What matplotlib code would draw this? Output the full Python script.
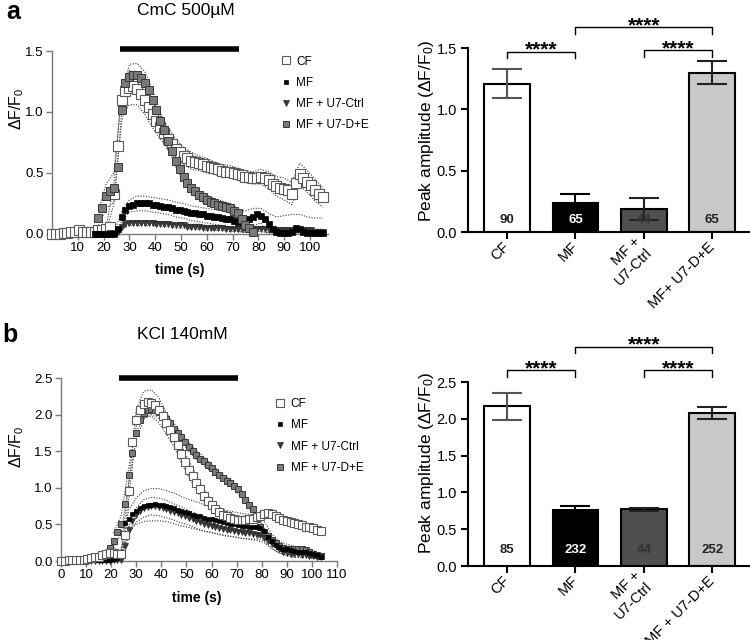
import matplotlib
matplotlib.use("Agg")
import matplotlib.pyplot as plt
from matplotlib.lines import Line2D

plt.rcParams['font.family'] = ['Liberation Sans', 'DejaVu Sans']
plt.rcParams['mathtext.fontset'] = 'custom'
plt.rcParams['mathtext.rm'] = 'Liberation Sans'
plt.rcParams['mathtext.it'] = 'Liberation Sans:italic'
plt.rcParams['mathtext.bf'] = 'Liberation Sans:bold'

nan = float('nan')

# --- Data ---
# sample times of the traces (s), same grid for both panels
TIME_S = [0, 1.5, 3, 4.5, 6, 7.5, 9, 10.5, 12, 13.5,
          15, 16.5, 18, 19.5, 21, 22.5, 24, 25.5, 27, 28.5,
          30, 31.5, 33, 34.5, 36, 37.5, 39, 40.5, 42, 43.5,
          45, 46.5, 48, 49.5, 51, 52.5, 54, 55.5, 57, 58.5,
          60, 61.5, 63, 64.5, 66, 67.5, 69, 70.5, 72, 73.5,
          75, 76.5, 78, 79.5, 81, 82.5, 84, 85.5, 87, 88.5,
          90, 91.5, 93, 94.5, 96, 97.5, 99, 100.5, 102, 103.5,
          105]

# panel a: CmC 500uM, mean dF/F0
CF_A = [0.00, 0.00, 0.00, 0.01, 0.01, 0.02, 0.02, 0.03, 0.02, 0.02,
        0.02, 0.02, 0.03, 0.03, 0.04, 0.06, 0.33, 0.72, 1.10, 1.17,
        1.20, 1.21, 1.19, 1.15, 1.10, 1.04, 0.98, 0.93, 0.88, 0.83,
        0.78, 0.74, 0.70, 0.67, 0.64, 0.62, 0.60, 0.59, 0.58, 0.57,
        0.56, 0.55, 0.54, 0.53, 0.52, 0.51, 0.51, 0.50, 0.49, 0.48,
        0.47, 0.47, 0.46, 0.46, 0.47, 0.46, 0.44, 0.41, 0.39, 0.38,
        0.37, 0.36, 0.33, 0.42, 0.49, 0.46, 0.43, 0.40, 0.36, 0.33,
        0.30]
MF_A = [nan, nan, nan, nan, nan, nan, nan, nan, nan, nan,
        nan, 0.00, 0.00, 0.00, 0.00, 0.00, 0.00, 0.04, 0.14, 0.20,
        0.23, 0.24, 0.25, 0.25, 0.25, 0.25, 0.24, 0.24, 0.23, 0.22,
        0.22, 0.21, 0.20, 0.20, 0.19, 0.18, 0.17, 0.17, 0.16, 0.16,
        0.15, 0.15, 0.14, 0.14, 0.13, 0.12, 0.12, 0.11, 0.10, 0.10,
        0.10, 0.12, 0.14, 0.16, 0.15, 0.12, 0.08, 0.04, 0.02, 0.01,
        0.01, 0.01, 0.02, 0.05, 0.04, 0.02, 0.01, 0.01, 0.01, 0.01,
        0.01]
CTRL_A = [nan, nan, nan, nan, nan, nan, nan, nan, nan, nan,
          nan, 0.00, 0.00, 0.00, 0.00, 0.01, 0.01, 0.02, 0.06, 0.08,
          0.09, 0.09, 0.09, 0.09, 0.09, 0.09, 0.09, 0.08, 0.08, 0.08,
          0.08, 0.07, 0.07, 0.07, 0.07, 0.06, 0.06, 0.06, 0.06, 0.05,
          0.05, 0.05, 0.05, 0.05, 0.05, 0.04, 0.04, 0.04, 0.04, 0.04,
          0.04, 0.04, 0.04, 0.04, 0.04, 0.04, 0.03, 0.03, 0.03, 0.03,
          0.03, 0.03, 0.03, 0.03, 0.03, 0.03, 0.03, 0.03, 0.02, 0.02,
          0.02]
DE_A = [nan, nan, nan, nan, nan, nan, nan, nan, nan, nan,
        nan, nan, 0.13, 0.21, 0.31, 0.35, 0.38, 0.55, 1.02, 1.24,
        1.29, 1.30, 1.30, 1.28, 1.24, 1.18, 1.10, 1.02, 0.93, 0.85,
        0.76, 0.68, 0.60, 0.53, 0.47, 0.42, 0.38, 0.35, 0.32, 0.30,
        0.28, 0.26, 0.25, 0.24, 0.23, 0.22, 0.21, 0.19, 0.17, 0.12,
        0.07, 0.05, 0.02, nan, nan, nan, nan, nan, nan, nan,
        nan, nan, nan, nan, nan, nan, nan, nan, nan, nan,
        nan]

# SEM, read at every second sample (0, 3, 6 ... 105 s)
CF_A_SEM = [0.01, 0.01, 0.01, 0.01, 0.01, 0.01, 0.01, 0.02, 0.08, 0.12,
            0.14, 0.13, 0.12, 0.11, 0.10, 0.09, 0.08, 0.07, 0.07, 0.06,
            0.06, 0.05, 0.05, 0.05, 0.05, 0.05, 0.05, 0.06, 0.07, 0.08,
            0.09, 0.09, 0.09, 0.09, 0.09, 0.08]
MF_A_SEM = [0.0, 0.0, 0.0, 0.0, 0.0, 0.0, 0.01, 0.01, 0.01, 0.04,
            0.05, 0.06, 0.06, 0.06, 0.06, 0.06, 0.06, 0.06, 0.06, 0.06,
            0.06, 0.06, 0.06, 0.07, 0.08, 0.09, 0.07, 0.06, 0.09, 0.12,
            0.14, 0.14, 0.12, 0.13, 0.12, 0.12]
CTRL_A_SEM = [0.0, 0.0, 0.0, 0.0, 0.0, 0.0, 0.01, 0.01, 0.01, 0.02,
              0.02, 0.02, 0.02, 0.02, 0.02, 0.02, 0.02, 0.02, 0.02, 0.02,
              0.02, 0.02, 0.02, 0.02, 0.02, 0.02, 0.02, 0.02, 0.02, 0.02,
              0.02, 0.02, 0.02, 0.02, 0.02, 0.02]
DE_A_SEM = [0.0, 0.0, 0.0, 0.0, 0.0, 0.0, 0.06, 0.10, 0.12, 0.10,
            0.10, 0.10, 0.09, 0.08, 0.07, 0.06, 0.05, 0.05, 0.04, 0.04,
            0.04, 0.04, 0.04, 0.04, 0.04, 0.03, 0.03, 0.0, 0.0, 0.0,
            0.0, 0.0, 0.0, 0.0, 0.0, 0.0]

# panel b: KCl 140mM, mean dF/F0
CF_B = [0.00, 0.00, 0.01, 0.01, 0.01, 0.02, 0.02, 0.03, 0.04, 0.05,
        0.06, 0.08, 0.10, 0.11, 0.11, 0.10, 0.09, 0.35, 0.95, 1.62,
        1.92, 2.07, 2.14, 2.17, 2.16, 2.13, 2.06, 1.98, 1.88, 1.79,
        1.70, 1.58, 1.46, 1.35, 1.25, 1.16, 1.07, 0.98, 0.89, 0.82,
        0.76, 0.71, 0.67, 0.63, 0.61, 0.59, 0.57, 0.56, 0.56, 0.56,
        0.57, 0.58, 0.60, 0.62, 0.64, 0.65, 0.64, 0.62, 0.59, 0.56,
        0.55, 0.53, 0.52, 0.50, 0.49, 0.47, 0.46, 0.45, 0.43, 0.41,
        nan]
MF_B = [0.00, 0.00, 0.00, 0.00, 0.00, 0.00, 0.01, 0.01, 0.01, 0.01,
        0.01, 0.01, 0.01, 0.02, 0.03, 0.04, 0.08, 0.52, 0.58, 0.64,
        0.68, 0.72, 0.75, 0.76, 0.77, 0.78, 0.77, 0.76, 0.75, 0.74,
        0.72, 0.70, 0.68, 0.67, 0.65, 0.63, 0.62, 0.61, 0.59, 0.58,
        0.57, 0.56, 0.55, 0.53, 0.52, 0.51, 0.50, 0.49, 0.48, 0.48,
        0.47, 0.47, 0.46, 0.45, 0.41, 0.33, 0.27, 0.22, 0.19, 0.17,
        0.16, 0.15, 0.14, 0.13, 0.13, 0.12, 0.11, 0.10, 0.08, 0.06,
        nan]
CTRL_B = [nan, nan, nan, nan, nan, nan, 0.00, 0.00, 0.00, 0.00,
          0.00, 0.00, 0.00, 0.00, 0.01, 0.01, 0.02, 0.20, 0.42, 0.55,
          0.63, 0.68, 0.72, 0.74, 0.75, 0.75, 0.74, 0.73, 0.71, 0.69,
          0.67, 0.65, 0.63, 0.61, 0.59, 0.57, 0.55, 0.53, 0.51, 0.49,
          0.48, 0.46, 0.45, 0.44, 0.43, 0.42, 0.41, 0.40, 0.39, 0.38,
          0.38, 0.37, 0.36, 0.35, 0.32, 0.27, 0.23, 0.20, 0.16, 0.13,
          0.11, 0.10, 0.09, 0.09, 0.08, 0.08, 0.07, 0.07, 0.06, 0.05,
          nan]
DE_B = [nan, nan, nan, nan, nan, nan, nan, nan, nan, nan,
        nan, nan, nan, 0.18, 0.28, 0.40, 0.50, 0.78, 1.17, 1.48,
        1.75, 1.92, 2.02, 2.06, 2.08, 2.06, 2.03, 1.99, 1.94, 1.88,
        1.81, 1.75, 1.69, 1.62, 1.56, 1.51, 1.45, 1.40, 1.36, 1.31,
        1.27, 1.22, 1.18, 1.14, 1.10, 1.07, 1.03, 0.98, 0.91, 0.83,
        0.77, 0.71, 0.58, 0.47, 0.40, 0.34, 0.29, 0.24, 0.20, 0.18,
        0.17, 0.17, 0.17, 0.17, 0.16, 0.15, 0.12, 0.09, 0.08, 0.07,
        nan]

CF_B_SEM = [0.01, 0.01, 0.01, 0.02, 0.03, 0.04, 0.05, 0.06, 0.06, 0.10,
            0.15, 0.18, 0.18, 0.17, 0.15, 0.13, 0.12, 0.11, 0.10, 0.08,
            0.07, 0.06, 0.05, 0.05, 0.05, 0.05, 0.05, 0.05, 0.05, 0.04,
            0.04, 0.04, 0.04, 0.04, 0.04, 0.04]
MF_B_SEM = [0.01, 0.01, 0.01, 0.01, 0.01, 0.01, 0.02, 0.03, 0.05, 0.12,
            0.18, 0.21, 0.22, 0.22, 0.21, 0.21, 0.20, 0.19, 0.19, 0.18,
            0.18, 0.18, 0.17, 0.17, 0.17, 0.17, 0.16, 0.13, 0.10, 0.08,
            0.07, 0.06, 0.06, 0.05, 0.05, 0.05]
CTRL_B_SEM = [0.0, 0.0, 0.0, 0.01, 0.01, 0.01, 0.01, 0.01, 0.02, 0.06,
              0.10, 0.12, 0.12, 0.12, 0.12, 0.11, 0.11, 0.10, 0.10, 0.10,
              0.09, 0.09, 0.09, 0.08, 0.08, 0.08, 0.08, 0.07, 0.06, 0.05,
              0.04, 0.04, 0.03, 0.03, 0.03, 0.03]
DE_B_SEM = [0.0, 0.0, 0.0, 0.0, 0.0, 0.0, 0.0, 0.10, 0.12, 0.10,
            0.09, 0.08, 0.08, 0.08, 0.07, 0.07, 0.06, 0.06, 0.06, 0.06,
            0.05, 0.05, 0.05, 0.05, 0.05, 0.05, 0.05, 0.05, 0.04, 0.04,
            0.03, 0.03, 0.03, 0.03, 0.03, 0.0]

# stimulus bars (start s, end s, level)
STIM_A = (26.5, 72.5, 1.52)
STIM_B = (23.0, 70.5, 2.50)

# peak amplitude bars
BAR_LABELS_A = ['CF', 'MF', 'MF +\nU7-Ctrl', 'MF+ U7-D+E']
BAR_LABELS_B = ['CF', 'MF', 'MF +\nU7-Ctrl', 'MF + U7-D+E']
PEAK_A = [1.21, 0.24, 0.19, 1.30]
PEAK_A_ERR = [0.12, 0.07, 0.09, 0.095]
N_A = ['90', '65', '44', '65']
PEAK_B = [2.17, 0.76, 0.77, 2.08]
PEAK_B_ERR = [0.185, 0.05, 0.02, 0.08]
N_B = ['85', '232', '44', '252']
# significance brackets (from bar, to bar, height)
SIG_A = [(0, 1, 1.47), (1, 3, 1.67), (2, 3, 1.48)]
SIG_B = [(0, 1, 2.66), (1, 3, 2.98), (2, 3, 2.66)]

# --- Styles ---
GROUPS = ['CF', 'MF', 'MF + U7-Ctrl', 'MF + U7-D+E']
MARKERS = {
    'CF': dict(marker='s', ms=7, mfc='white', mec='#5a5a5a', mew=0.8),
    'MF': dict(marker='s', ms=4.0, mfc='black', mec='black', mew=0.5),
    'MF + U7-Ctrl': dict(marker='v', ms=5.0, mfc='#3c3c3c', mec='#262626', mew=0.5),
    'MF + U7-D+E': dict(marker='s', ms=5.5, mfc='#7a7a7a', mec='#383838', mew=0.7),
}
BAR_COLORS = ['white', 'black', '#4f4f4f', '#c8c8c8']
N_COLORS = ['#222222', 'white', '#333333', '#222222']
TRACE_AXIS = '#7a7a7a'


def draw_traces(ax, series, order, stim, ymax, yticks, xmax, xticks, ms_scale):
    t2 = TIME_S[::2]
    for name in order:
        mean, sem = series[name]
        m2 = mean[::2]
        up = [m + s for m, s in zip(m2, sem)]
        lo = [m - s for m, s in zip(m2, sem)]
        for env in (up, lo):
            ax.plot(t2, env, linestyle=(0, (1, 1.4)), color='#3a3a3a', lw=0.8, zorder=2)
    for k, name in enumerate(order):
        st = dict(MARKERS[name])
        st['ms'] = st['ms'] * ms_scale
        ax.plot(TIME_S, series[name][0], linestyle='none', clip_on=False,
                zorder=3 + k, **st)
    t0, t1, lev = stim
    ax.plot([t0, t1], [lev, lev], color='black', lw=4, solid_capstyle='butt',
            clip_on=False, zorder=10)
    ax.set_xlim(0, xmax)
    ax.set_ylim(0, ymax)
    ax.set_xticks(xticks)
    ax.set_yticks(yticks)
    ax.set_yticklabels([f'{v:.1f}' for v in yticks])
    for side in ('top', 'right'):
        ax.spines[side].set_visible(False)
    for side in ('left', 'bottom'):
        ax.spines[side].set_color(TRACE_AXIS)
        ax.spines[side].set_linewidth(1.0)
    ax.tick_params(direction='out', length=4, width=1.0, color=TRACE_AXIS,
                   labelsize=9.5, pad=2)
    handles = [Line2D([], [], linestyle='none', **dict(MARKERS[g], ms=MARKERS[g]['ms'] * 0.75))
               for g in GROUPS]
    return handles


def draw_bars(ax, labels, peak, err, ns, n_y, sig, ymax, yticks):
    x = range(len(peak))
    ax.bar(x, peak, width=0.67, color=BAR_COLORS, edgecolor='black', linewidth=1.5, zorder=2)
    ecol = ['#555555', 'black', '#222222', '#222222']
    for i in x:
        ax.errorbar(i, peak[i], yerr=err[i], fmt='none', ecolor=ecol[i], elinewidth=1.5,
                    capsize=11, capthick=1.5, zorder=3)
        ax.text(i, n_y, ns[i], ha='center', va='center', fontsize=9.5,
                fontweight='bold', color=N_COLORS[i], zorder=4)
    drop = 0.035 * ymax
    for a, b, h in sig:
        ax.plot([a, a, b, b], [h - drop, h, h, h - drop], color='black', lw=1.0,
                clip_on=False)
        ax.annotate('****', xy=((a + b) / 2, h), xytext=(0, -3), textcoords='offset points',
                    ha='center', va='baseline', fontsize=15, fontweight='bold',
                    annotation_clip=False)
    ax.set_xlim(-0.57, 3.55)
    ax.set_ylim(0, ymax)
    ax.set_yticks(yticks)
    ax.set_yticklabels([f'{v:.1f}' for v in yticks])
    ax.set_xticks(list(x))
    ax.set_xticklabels(labels, rotation=45, ha='right', va='center', rotation_mode='anchor',
                       multialignment='right', fontsize=10)
    for side in ('top', 'right'):
        ax.spines[side].set_visible(False)
    for side in ('left', 'bottom'):
        ax.spines[side].set_linewidth(1.5)
    ax.tick_params(direction='out', length=5, width=1.5, labelsize=10.5, pad=3)
    ax.tick_params(axis='x', pad=4)


fig = plt.figure(figsize=(7.5, 6.4), dpi=100)

# panel a traces
ax1 = fig.add_axes([0.0693, 0.6344, 0.368, 0.2859])
h = draw_traces(ax1, {'CF': (CF_A, CF_A_SEM), 'MF': (MF_A, MF_A_SEM),
                      'MF + U7-Ctrl': (CTRL_A, CTRL_A_SEM),
                      'MF + U7-D+E': (DE_A, DE_A_SEM)},
                ['CF', 'MF + U7-Ctrl', 'MF', 'MF + U7-D+E'], STIM_A,
                1.5, [0.0, 0.5, 1.0, 1.5], 107, list(range(10, 101, 10)), 1.0)
ax1.legend(h, GROUPS, loc='upper left', bbox_to_anchor=(0.826, 0.975), frameon=False,
           borderpad=0, borderaxespad=0, handlelength=1.0, handletextpad=0.4,
           labelspacing=0.78, fontsize=8.5)

# panel b traces
ax3 = fig.add_axes([0.0813, 0.1234, 0.368, 0.2859])
h = draw_traces(ax3, {'CF': (CF_B, CF_B_SEM), 'MF': (MF_B, MF_B_SEM),
                      'MF + U7-Ctrl': (CTRL_B, CTRL_B_SEM),
                      'MF + U7-D+E': (DE_B, DE_B_SEM)},
                ['MF + U7-D+E', 'MF + U7-Ctrl', 'MF', 'CF'], STIM_B,
                2.5, [0.0, 0.5, 1.0, 1.5, 2.0, 2.5], 110, list(range(0, 111, 10)), 0.88)
ax3.legend(h, GROUPS, loc='upper left', bbox_to_anchor=(0.772, 0.89), frameon=False,
           borderpad=0, borderaxespad=0, handlelength=1.0, handletextpad=0.4,
           labelspacing=0.78, fontsize=8.5)

# bar charts
ax2 = fig.add_axes([0.624, 0.6375, 0.376, 0.2875])
draw_bars(ax2, BAR_LABELS_A, PEAK_A, PEAK_A_ERR, N_A, 0.10, SIG_A, 1.5, [0.0, 0.5, 1.0, 1.5])
ax4 = fig.add_axes([0.624, 0.1156, 0.376, 0.2875])
draw_bars(ax4, BAR_LABELS_B, PEAK_B, PEAK_B_ERR, N_B, 0.22, SIG_B, 2.5,
          [0.0, 0.5, 1.0, 1.5, 2.0, 2.5])

# labels and titles
fig.text(0.0173, 0.971, 'a', fontsize=18, fontweight='bold', ha='center', va='baseline')
fig.text(0.0133, 0.465, 'b', fontsize=18, fontweight='bold', ha='center', va='baseline')
fig.text(0.248, 0.984, 'CmC 500µM', fontsize=12.5, ha='center', va='center')
fig.text(0.2427, 0.4766, 'KCl 140mM', fontsize=12.5, ha='center', va='center')
fig.text(0.0227, 0.8297, r'ΔF/F$_0$', fontsize=11.5, rotation=90, ha='center', va='center')
fig.text(0.0227, 0.3016, r'ΔF/F$_0$', fontsize=11.5, rotation=90, ha='center', va='center')
fig.text(0.24, 0.578, 'time (s)', fontsize=10, fontweight='bold', ha='center', va='center')
fig.text(0.2627, 0.0656, 'time (s)', fontsize=10, fontweight='bold', ha='center', va='center')
fig.text(0.5693, 0.7953, r'Peak amplitude (ΔF/F$_0$)', fontsize=12.5, rotation=90,
         ha='center', va='center')
fig.text(0.5693, 0.2766, r'Peak amplitude (ΔF/F$_0$)', fontsize=12.5, rotation=90,
         ha='center', va='center')

fig.savefig('out.png', dpi=100)
